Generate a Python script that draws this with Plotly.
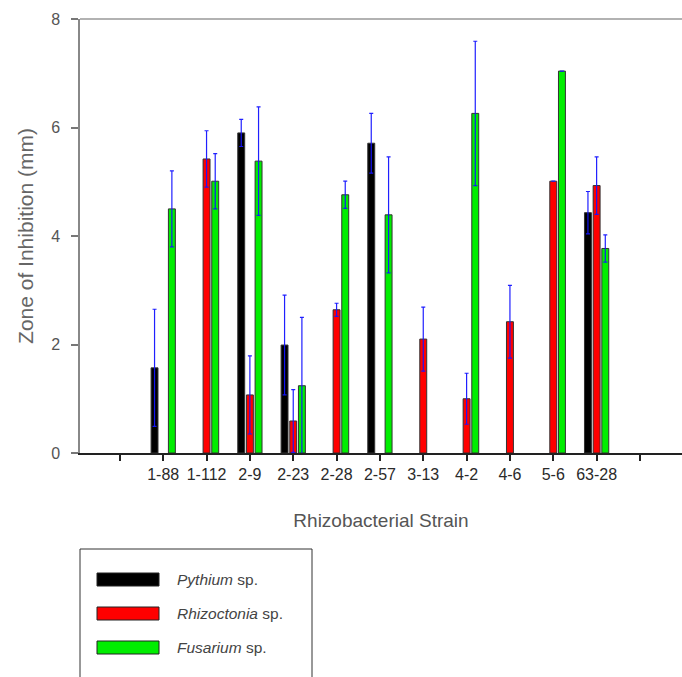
import plotly.graph_objects as go

strains = ["1-88", "1-112", "2-9", "2-23", "2-28", "2-57", "3-13", "4-2", "4-6", "5-6", "63-28"]

pythium = [1.57, None, 5.90, 1.99, None, 5.71, None, None, None, None, 4.43]
pythium_err = [1.08, None, 0.25, 0.92, None, 0.55, None, None, None, None, 0.39]

rhizoctonia = [None, 5.42, 1.07, 0.59, 2.64, None, 2.10, 1.00, 2.42, 5.01, 4.93]
rhizoctonia_err = [None, 0.52, 0.72, 0.58, 0.12, None, 0.59, 0.47, 0.67, None, 0.53]

fusarium = [4.50, 5.01, 5.38, 1.24, 4.76, 4.39, None, 6.26, None, 7.04, 3.77]
fusarium_err = [0.70, 0.51, 1.00, 1.26, 0.25, 1.07, None, 1.33, None, None, 0.25]

series = [
    ("Pythium", pythium, pythium_err, "#000000"),
    ("Rhizoctonia", rhizoctonia, rhizoctonia_err, "#ff0000"),
    ("Fusarium", fusarium, fusarium_err, "#00ee00"),
]

y_ticks = [0, 2, 4, 6, 8]

W, H = 682, 677
ML, MT, MB = 80, 19, 224
PW = W - ML
PH = H - MT - MB

xs = list(range(len(strains)))

fig = go.Figure()
for name, vals, errs, col in series:
    fig.add_trace(go.Bar(
        x=xs, y=vals, name=name,
        marker=dict(color=col, line=dict(color="#333333", width=1)),
        error_y=dict(type="data", array=errs, visible=True,
                     color="rgba(20,20,255,0.95)", thickness=1.2, width=2),
        showlegend=False,
    ))

tickvals = [-1] + xs + [len(strains)]
ticktext = [""] + strains + [""]

fig.update_layout(
    width=W, height=H,
    margin=dict(l=ML, r=0, t=MT, b=MB, pad=0, autoexpand=False),
    paper_bgcolor="white", plot_bgcolor="white",
    barmode="group", bargap=0.4, bargroupgap=0.2,
    font=dict(family="Arial, Liberation Sans, sans-serif", color="#3a3a3a"),
    xaxis=dict(
        range=[-1.92, 11.97], tickvals=tickvals, ticktext=ticktext,
        automargin=False,
        showgrid=False, zeroline=False,
        showline=True, linecolor="#222222", linewidth=1.5,
        ticks="outside", ticklen=6, tickcolor="#222222", tickwidth=1.5,
        tickfont=dict(size=16, color="#2a2a2a"),
        title=dict(text="Rhizobacterial Strain", font=dict(size=19, color="#555555"), standoff=32),
    ),
    yaxis=dict(
        range=[0, 8], tickvals=y_ticks,
        automargin=False,
        showgrid=False, zeroline=False,
        showline=True, linecolor="#888888", linewidth=1.5,
        ticks="outside", ticklen=7, tickcolor="#777777", tickwidth=1.5,
        tickfont=dict(size=16, color="#555555"),
        ticklabelstandoff=8,
        title=dict(text="Zone of Inhibition (mm)", font=dict(size=21, color="#666666"), standoff=12),
    ),
)

# top frame line
fig.add_shape(type="line", xref="paper", yref="paper", x0=0, x1=1, y0=1, y1=1,
              line=dict(color="#999999", width=1.5))

# custom legend box
def px_x(p):
    return (p - ML) / PW

def px_y(p):
    return (MT + PH - p) / PH

fig.add_shape(type="rect", xref="paper", yref="paper",
              x0=px_x(80), x1=px_x(312), y0=px_y(549), y1=px_y(700),
              line=dict(color="#333333", width=1), fillcolor="rgba(0,0,0,0)")

legend_rows = [573, 607, 641]
for (name, vals, errs, col), top in zip(series, legend_rows):
    fig.add_shape(type="rect", xref="paper", yref="paper",
                  x0=px_x(97), x1=px_x(159), y0=px_y(top + 13), y1=px_y(top),
                  line=dict(color="#222222", width=1), fillcolor=col)
    fig.add_annotation(xref="paper", yref="paper", x=px_x(175), y=px_y(top + 6.5),
                       xanchor="left", yanchor="middle", showarrow=False,
                       text=f"<i>{name}</i> sp.",
                       font=dict(size=15.5, color="#444444"))

fig.write_html("out.html",
               config={"displayModeBar": False},
               post_script="document.body.style.margin='0';document.body.style.overflow='hidden';")
